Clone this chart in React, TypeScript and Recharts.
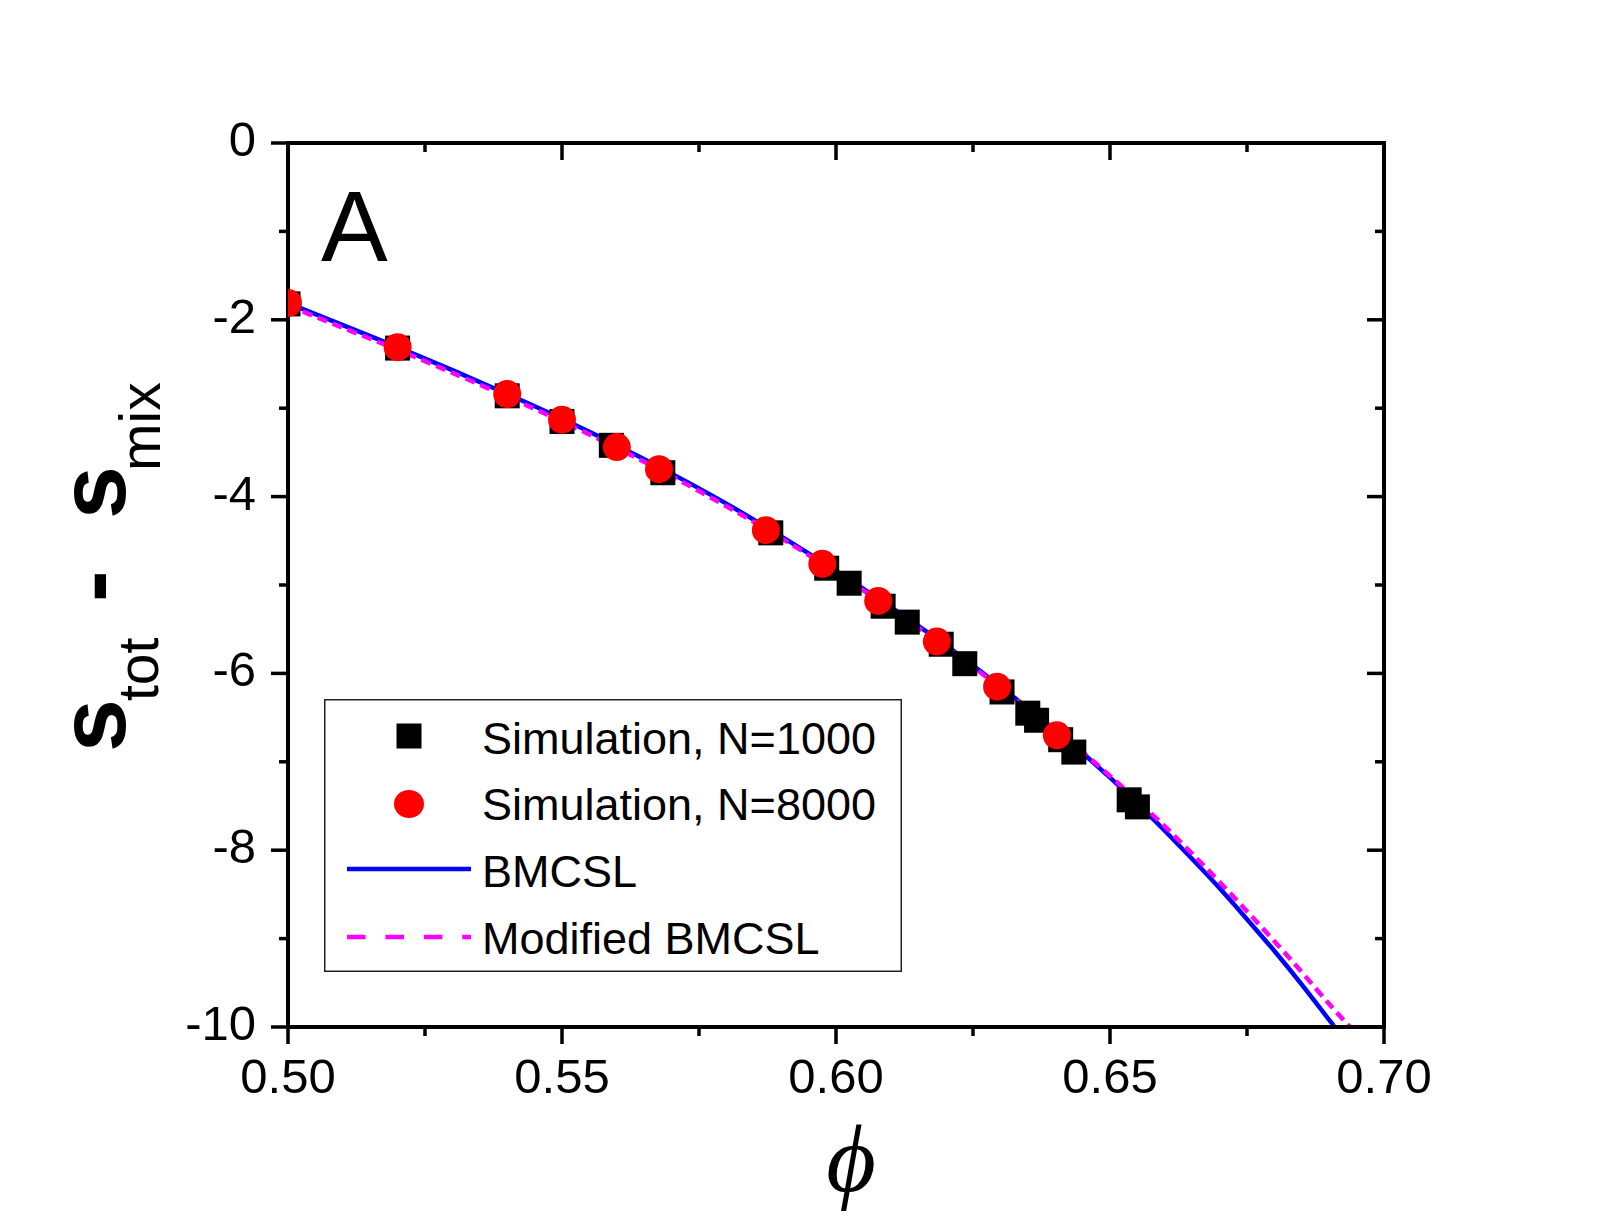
import { ComposedChart, Line, Scatter, XAxis, YAxis, Legend, Customized } from 'recharts'

const W = 1609
const H = 1232
const FONT = 'Arial, "Liberation Sans", sans-serif'

// packing fraction / entropy difference, simulation runs
const phi1000 = [0.5, 0.52, 0.54, 0.55, 0.559, 0.5684, 0.5881, 0.5983, 0.6024, 0.6086, 0.613, 0.6192, 0.6235, 0.6303, 0.635, 0.6366, 0.641, 0.6434, 0.6535, 0.655]
const s1000 = [-1.82, -2.32, -2.86, -3.15, -3.42, -3.73, -4.41, -4.81, -4.98, -5.24, -5.42, -5.67, -5.89, -6.21, -6.45, -6.53, -6.75, -6.89, -7.43, -7.51]

const phi8000 = [0.5, 0.52, 0.54, 0.55, 0.56, 0.5677, 0.5872, 0.5975, 0.6077, 0.6184, 0.6294, 0.6403]
const s8000 = [-1.81, -2.31, -2.84, -3.13, -3.44, -3.69, -4.38, -4.76, -5.18, -5.64, -6.15, -6.7]

// theory curves
const phiBmcsl = [0.5, 0.51, 0.52, 0.53, 0.54, 0.55, 0.56, 0.57, 0.58, 0.59, 0.6, 0.61, 0.62, 0.63, 0.64, 0.645, 0.65, 0.655, 0.66, 0.665, 0.67, 0.675, 0.68, 0.685, 0.69, 0.691]
const sBmcsl = [-1.81, -2.06, -2.31, -2.57, -2.84, -3.12, -3.42, -3.74, -4.08, -4.45, -4.84, -5.25, -5.68, -6.15, -6.64, -6.9, -7.18, -7.47, -7.78, -8.1, -8.43, -8.78, -9.14, -9.52, -9.92, -10]

const phiModified = [0.5, 0.51, 0.52, 0.53, 0.54, 0.55, 0.56, 0.57, 0.58, 0.59, 0.6, 0.61, 0.62, 0.63, 0.64, 0.645, 0.65, 0.655, 0.66, 0.665, 0.67, 0.675, 0.68, 0.685, 0.69, 0.6938]
const sModified = [-1.84, -2.09, -2.34, -2.6, -2.87, -3.15, -3.45, -3.77, -4.11, -4.47, -4.86, -5.27, -5.7, -6.16, -6.64, -6.89, -7.16, -7.44, -7.73, -8.04, -8.36, -8.69, -9.03, -9.38, -9.74, -10]

const xTicks = [0.5, 0.525, 0.55, 0.575, 0.6, 0.625, 0.65, 0.675, 0.7]
const yTicks = [-10, -9, -8, -7, -6, -5, -4, -3, -2, -1, 0]

const seriesNames = ['Simulation, N=1000', 'Simulation, N=8000', 'BMCSL', 'Modified BMCSL']

const zip = (xs: number[], ys: number[]) => xs.map((x, i) => ({ x, y: ys[i] }))
const sim1000 = zip(phi1000, s1000)
const sim8000 = zip(phi8000, s8000)
const bmcsl = zip(phiBmcsl, sBmcsl)
const modified = zip(phiModified, sModified)

const isMajorX = (v: number) => Math.round(v * 1000) % 50 === 0
const isMajorY = (v: number) => Math.round(v) % 2 === 0
const MAJOR = 17
const MINOR = 9
const TICK_W = 3.5

const BottomTick = ({ x, y, payload }: any) => {
  const major = isMajorX(payload.value)
  return (
    <g>
      <line x1={x} x2={x} y1={y} y2={y + (major ? MAJOR : MINOR)} stroke="#000" strokeWidth={TICK_W} />
      {major && (
        <text x={x} y={y + 66} textAnchor="middle" fontSize={49} fontFamily={FONT} fill="#000">
          {payload.value.toFixed(2)}
        </text>
      )}
    </g>
  )
}

const TopTick = ({ x, y, payload }: any) => (
  <line x1={x} x2={x} y1={y} y2={y + (isMajorX(payload.value) ? MAJOR : MINOR)} stroke="#000" strokeWidth={TICK_W} />
)

const LeftTick = ({ x, y, payload }: any) => {
  const major = isMajorY(payload.value)
  return (
    <g>
      <line x1={x} x2={x - (major ? MAJOR : MINOR)} y1={y} y2={y} stroke="#000" strokeWidth={TICK_W} />
      {major && (
        <text x={x - 32} y={y + 13} textAnchor="end" fontSize={49} fontFamily={FONT} fill="#000">
          {String(payload.value)}
        </text>
      )}
    </g>
  )
}

const RightTick = ({ x, y, payload }: any) => (
  <line x1={x} x2={x - (isMajorY(payload.value) ? MAJOR : MINOR)} y1={y} y2={y} stroke="#000" strokeWidth={TICK_W} />
)

const squareShape = ({ cx, cy }: any) => <rect x={cx - 12.5} y={cy - 12.5} width={25} height={25} fill="#000" />
const circleShape = ({ cx, cy }: any) => <circle cx={cx} cy={cy} r={14} fill="#ff0000" />

const frame = { stroke: '#000', strokeWidth: 4, strokeLinecap: 'square' as const }

const LegendBox = () => {
  const rowY = [55, 121, 188, 255]
  return (
    <svg width={578} height={273} style={{ display: 'block' }}>
      <rect x={0.75} y={0.75} width={576.5} height={271.5} fill="#fff" stroke="#222" strokeWidth={1.5} />
      <rect x={72.5} y={24.5} width={25} height={25} fill="#000" />
      <ellipse cx={85} cy={105} rx={15} ry={14} fill="#ff0000" />
      <line x1={23} x2={147} y1={170} y2={170} stroke="#0000ff" strokeWidth={4.5} />
      <line x1={23} x2={147} y1={238} y2={238} stroke="#ff00ff" strokeWidth={4.5} strokeDasharray="18.6 19.8" />
      {seriesNames.map((name, i) => (
        <text key={name} x={158} y={rowY[i]} fontSize={45} fontFamily={FONT} fill="#000">
          {name}
        </text>
      ))}
    </svg>
  )
}

const Titles = () => (
  <g fill="#000">
    <text x={321} y={261} fontSize={100} fontFamily={FONT}>A</text>
    <text x={851} y={1191} fontSize={96} fontStyle="italic" fontFamily='"Liberation Serif", "DejaVu Serif", serif' textAnchor="middle">
      ϕ
    </text>
    <g transform="translate(125, 750) rotate(-90)" fontFamily={FONT}>
      <text x={-2} y={0} fontSize={95} fontWeight="bold">s</text>
      <text x={49} y={33} fontSize={57}>tot</text>
      <text x={148} y={0} fontSize={95} fontWeight="bold">-</text>
      <text x={231} y={0} fontSize={95} fontWeight="bold">s</text>
      <text x={279} y={35} fontSize={57}>mix</text>
    </g>
  </g>
)

export default function App() {
  return (
    <div style={{ position: 'absolute', left: 0, top: 0, width: W, height: H, background: '#fff' }}>
      <ComposedChart width={W} height={H} margin={{ top: 142, right: 224, bottom: 204, left: 287 }}>
        <XAxis xAxisId="b" type="number" dataKey="x" domain={[0.5, 0.7]} allowDataOverflow ticks={xTicks}
          interval={0} height={1} tickSize={0} tickMargin={0} tick={BottomTick} tickLine={false} axisLine={frame} />
        <XAxis xAxisId="t" orientation="top" type="number" dataKey="x" domain={[0.5, 0.7]} allowDataOverflow ticks={xTicks}
          interval={0} height={1} tickSize={0} tickMargin={0} tick={TopTick} tickLine={false} axisLine={frame} />
        <YAxis yAxisId="l" type="number" domain={[-10, 0]} allowDataOverflow ticks={yTicks}
          interval={0} width={1} tickSize={0} tickMargin={0} tick={LeftTick} tickLine={false} axisLine={frame} />
        <YAxis yAxisId="r" orientation="right" type="number" domain={[-10, 0]} allowDataOverflow ticks={yTicks}
          interval={0} width={1} tickSize={0} tickMargin={0} tick={RightTick} tickLine={false} axisLine={frame} />

        <Scatter name={seriesNames[0]} data={sim1000} dataKey="y" xAxisId="b" yAxisId="l" shape={squareShape} isAnimationActive={false} />
        <Scatter name={seriesNames[1]} data={sim8000} dataKey="y" xAxisId="b" yAxisId="l" shape={circleShape} isAnimationActive={false} />
        <Line name={seriesNames[2]} data={bmcsl} dataKey="y" xAxisId="b" yAxisId="l" type="natural" stroke="#0000ff"
          strokeWidth={4.5} dot={false} activeDot={false} isAnimationActive={false} />
        <Line name={seriesNames[3]} data={modified} dataKey="y" xAxisId="b" yAxisId="l" type="natural" stroke="#ff00ff"
          strokeWidth={4.5} strokeDasharray="10 6" dot={false} activeDot={false} isAnimationActive={false} />

        <Legend layout="horizontal" verticalAlign="middle" align="center" content={LegendBox}
          wrapperStyle={{ position: 'absolute', left: 324, top: 699, width: 578, height: 273 }} />
        <Customized component={Titles} />
      </ComposedChart>
    </div>
  )
}
